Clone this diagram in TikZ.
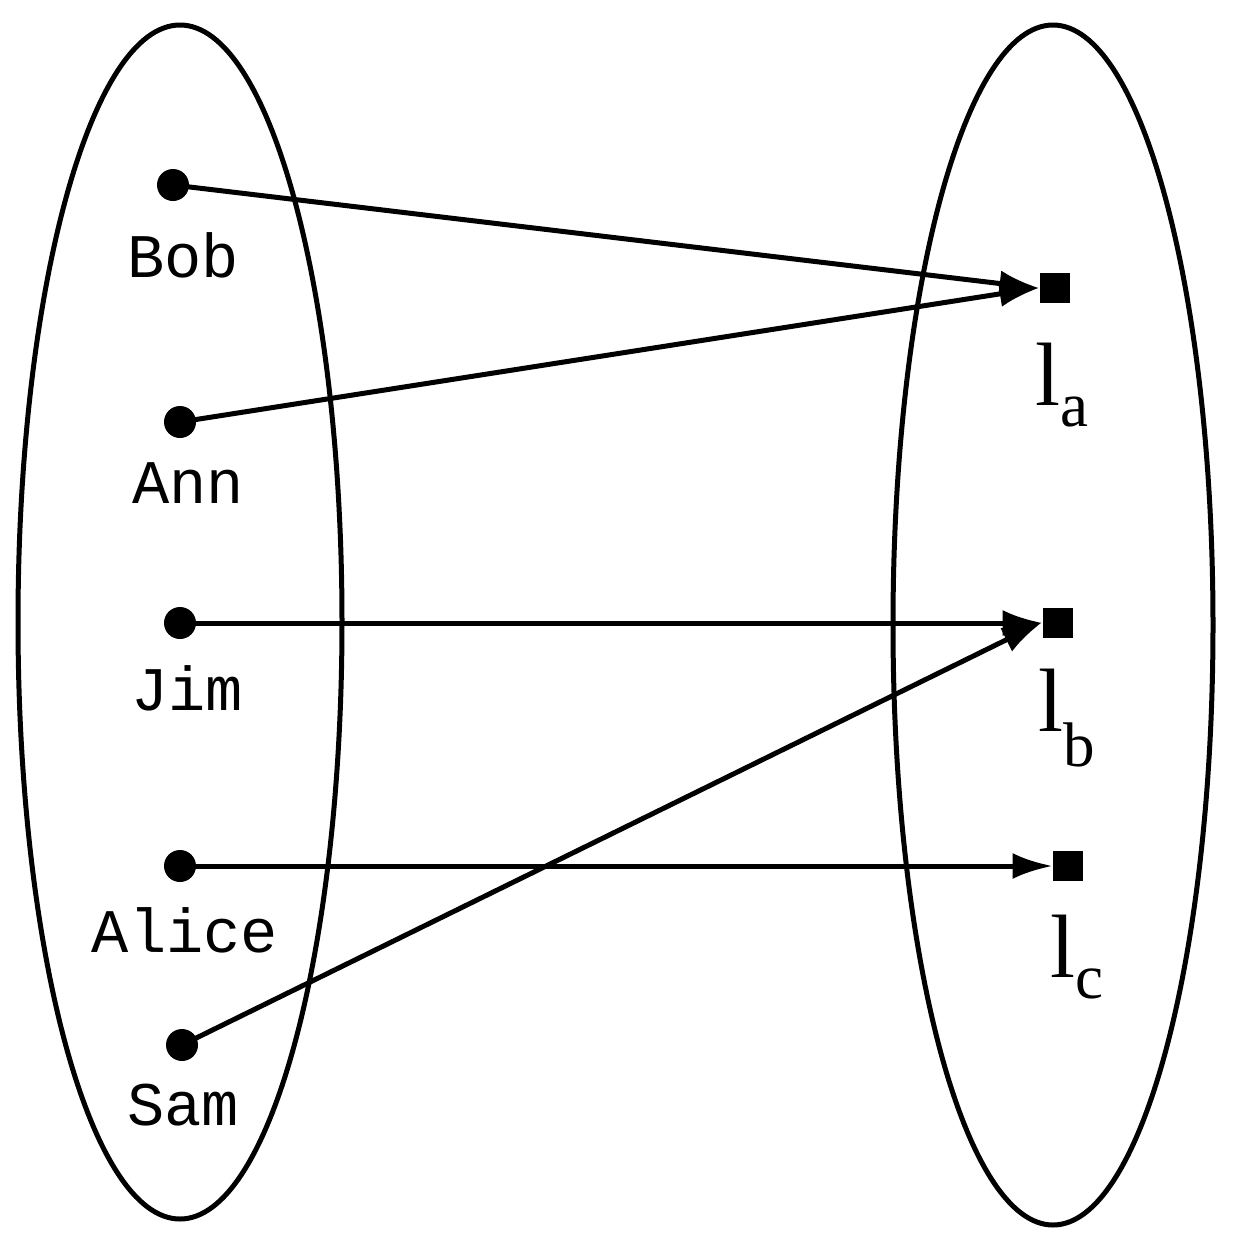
\documentclass[tikz,border=0pt]{standalone}
\usepackage{fontspec}
\setmonofont{Liberation Mono}
\setmainfont{Liberation Serif}
\usetikzlibrary{arrows.meta}
\begin{document}
\begin{tikzpicture}[x=1pt,y=-1pt,line width=5pt,
  dot/.style={circle,fill=black,inner sep=0pt,minimum size=32pt},
  sq/.style={rectangle,fill=black,inner sep=0pt,minimum size=30pt},
  nm/.style={font=\ttfamily\fontsize{62}{62}\selectfont},
  ll/.style={font=\fontsize{90}{90}\selectfont},
  arr/.style={-{Latex[length=40pt,width=26pt]},shorten >=-2pt}]
\useasboundingbox (0,0) rectangle (1235,1248);
\draw (180,622) ellipse [x radius=162, y radius=597];
\draw (1053,625) ellipse [x radius=160, y radius=600];
\node[dot] (bob) at (173,185) {};
\node[dot] (ann) at (180,422) {};
\node[dot] (jim) at (180,623) {};
\node[dot] (alice) at (180,866) {};
\node[dot] (sam) at (182,1045) {};
\node[sq] (la) at (1055,288) {};
\node[sq] (lb) at (1058,623) {};
\node[sq] (lc) at (1068,866) {};
\node[nm] at (183,255) {Bob};
\node[nm] at (188,483) {Ann};
\node[nm] at (187,688) {Jim};
\node[nm] at (185,930) {Alice};
\node[nm] at (183,1105) {Sam};
\node[ll] at (1062,385) {l$_{\mathrm a}$};
\node[ll] at (1067,718) {l$_{\mathrm b}$};
\node[ll] at (1077,957) {l$_{\mathrm c}$};
\draw[arr] (bob.center) -- (la.west);
\draw[arr] (ann.center) -- (la.west);
\draw[arr] (jim.center) -- (lb.west);
\draw[arr] (sam.center) -- (lb.west);
\draw[arr] (alice.center) -- (lc.west);
\end{tikzpicture}
\end{document}
